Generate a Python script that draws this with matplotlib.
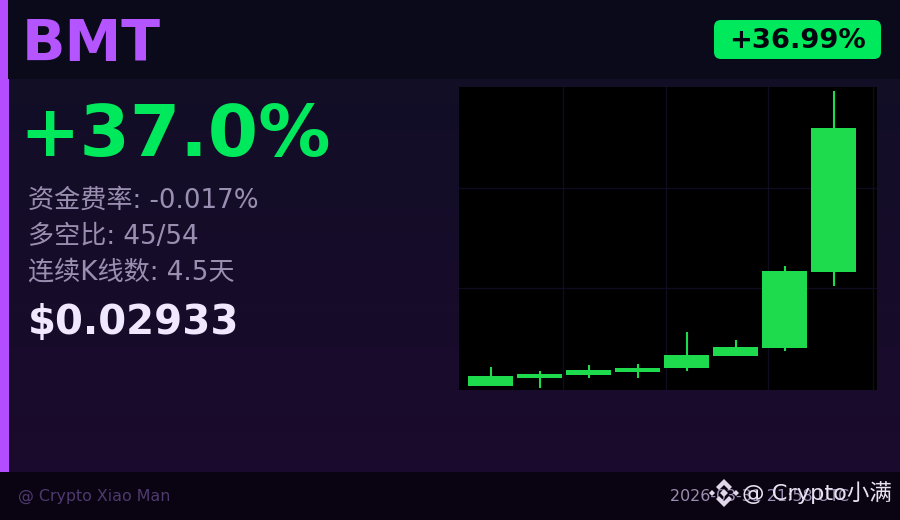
import matplotlib
matplotlib.use("Agg")
import matplotlib.pyplot as plt
from matplotlib.patches import Rectangle, FancyBboxPatch, Polygon
from matplotlib.colors import LinearSegmentedColormap
import numpy as np

symbol = "BMT"
badge = "+36.99%"
headline = "+37.0%"
info_lines = ["资金费率: -0.017%", "多空比: 45/54", "连续K线数: 4.5天"]
price = "$0.02933"
footer_left = "@ Crypto Xiao Man"
footer_right = "2026-03-31 21:58 UTC"
watermark = "@ Crypto小满"

opens = [0.01514, 0.01558, 0.01574, 0.01591, 0.01613, 0.01679, 0.01723, 0.02141]
closes = [0.01569, 0.01580, 0.01602, 0.01613, 0.01685, 0.01729, 0.02147, 0.02933]
highs = [0.01618, 0.01597, 0.01630, 0.01635, 0.01811, 0.01767, 0.02174, 0.03137]
lows = [0.01514, 0.01503, 0.01558, 0.01558, 0.01597, 0.01679, 0.01707, 0.02064]
x_grid = [1.47, 3.57, 5.67, 7.80]
y_grid = [0.02603, 0.02053]

W, H = 900, 520
fig = plt.figure(figsize=(9, 5.2), dpi=100)
bg = fig.add_axes([0, 0, 1, 1])
bg.axis("off")
cmap = LinearSegmentedColormap.from_list("bg", ["#100f25", "#1c0a2e"])
bg.imshow(np.linspace(0, 1, 256).reshape(-1, 1), cmap=cmap, extent=[0, W, H, 0], aspect="auto", zorder=0)
bg.set_xlim(0, W)
bg.set_ylim(H, 0)
bg.add_patch(Rectangle((0, 0), 9, 472, fc="#b34dff", ec="none", zorder=2))
bg.add_patch(Rectangle((8, 0), W - 8, 79, fc="#0a0a1a", ec="none", zorder=3))
bg.add_patch(Rectangle((0, 472), W, 48, fc="#090312", ec="none", zorder=1))
bg.add_patch(FancyBboxPatch((714, 20), 167, 39, boxstyle="round,pad=0,rounding_size=7",
                            fc="#00e85c", ec="none", zorder=4))

bg.text(22, 61, symbol, fontsize=41, fontweight="bold", color="#b455ff", va="baseline", ha="left", zorder=5)
bg.text(797.5, 40.5, badge, fontsize=19.7, fontweight="bold", color="#05050f", va="center", ha="center", zorder=5)
bg.text(19.5, 156, headline, fontsize=52, fontweight="bold", color="#00e85c", va="baseline", ha="left", zorder=5)
for text, y in zip(info_lines, [208, 244, 280]):
    bg.text(28, y, text, fontsize=18.8, color="#9a8fb0", va="baseline", ha="left", zorder=5,
            family=["DejaVu Sans", "Noto Sans CJK SC"])
bg.text(28, 334, price, fontsize=29, fontweight="bold", color="#f0e8ff", va="baseline", ha="left", zorder=5)
bg.text(18, 501, footer_left, fontsize=11.4, color="#4f3a70", va="baseline", ha="left", zorder=5)
bg.text(670, 501, footer_right, fontsize=11.4, color="#9a8fb0", va="baseline", ha="left", zorder=5)
bg.text(742, 500, watermark, fontsize=16.2, color="#e8e2f0", va="baseline", ha="left", zorder=6,
        family=["DejaVu Sans", "Noto Sans CJK SC"])

# Exchange-style diamond logo beside the watermark
cx, cy = 724, 493
logo = "#e0d8ea"
def poly(points):
    bg.add_patch(Polygon([(cx + a, cy + b) for a, b in points], fc=logo, ec="none", zorder=6))
poly([(0, -4), (4, 0), (0, 4), (-4, 0)])
poly([(-8, -6), (0, -14), (8, -6), (5, -3), (0, -8), (-5, -3)])
poly([(-8, 6), (0, 14), (8, 6), (5, 3), (0, 8), (-5, 3)])
poly([(-12, -3), (-9, 0), (-12, 3), (-15, 0)])
poly([(12, -3), (15, 0), (12, 3), (9, 0)])

ax = fig.add_axes([459 / W, 1 - 390 / H, (877 - 459) / W, (390 - 87) / H])
ax.set_facecolor("#000000")
for s in ax.spines.values():
    s.set_visible(False)
ax.set_xlim(-0.645, 7.886)
ax.set_ylim(0.01492, 0.03159)
ax.set_xticks(x_grid)
ax.set_yticks(y_grid)
ax.tick_params(length=0, labelbottom=False, labelleft=False)
ax.grid(True, color="#0f0c20", lw=1)
ax.set_axisbelow(True)
color = "#1ddb4c"
for i, (o, c, h, l) in enumerate(zip(opens, closes, highs, lows)):
    ax.vlines(i, l, h, color=color, lw=1.5, zorder=3)
    ax.bar(i, abs(c - o), bottom=min(o, c), width=0.92, color=color, zorder=4)

fig.savefig("out.png", dpi=100)
